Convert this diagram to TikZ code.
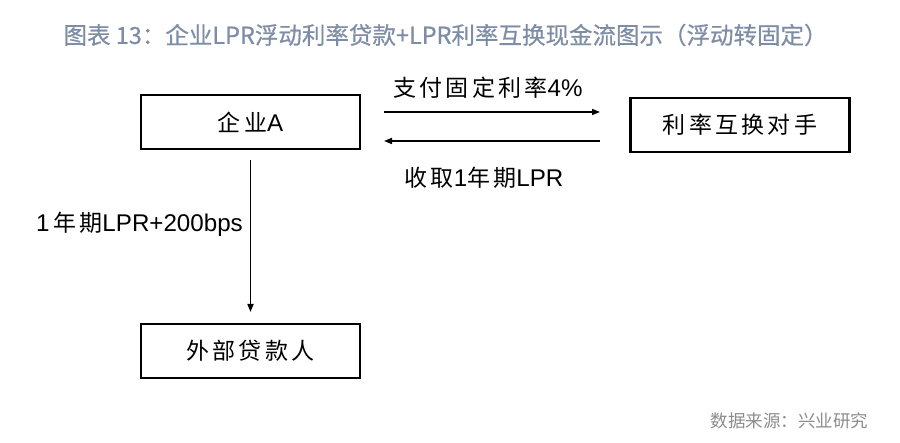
\documentclass[tikz,border=0pt]{standalone}
\usepackage{fontspec}
\setmainfont{Noto Sans CJK SC}
\newfontfamily\boxfont[LetterSpace=14]{Noto Sans CJK SC}
\newfontfamily\latinfont[Scale=1.05]{Liberation Sans}
\newfontfamily\titlefont[FakeBold=0.6]{Noto Sans CJK SC}
\newcommand{\lat}[1]{{\latinfont #1}}
\usetikzlibrary{arrows.meta,positioning}
\definecolor{titleblue}{RGB}{126,141,166}
\definecolor{srcgray}{RGB}{140,140,140}

\begin{document}
\begin{tikzpicture}[x=1pt,y=-1pt,
    party/.style={draw,line width=2.8pt,minimum width=219pt,minimum height=54pt,inner sep=0pt,outer sep=0pt,font=\fontsize{23}{27}\selectfont\boxfont},
    flow/.style={-{Triangle[length=8pt,width=6pt]},line width=1.6pt},
    flowtext/.style={font=\fontsize{23}{27}\selectfont\boxfont,inner sep=0pt}]
    \useasboundingbox (0,0) rectangle (900,443);

    % Title
    \node[anchor=west,text=titleblue,font=\fontsize{23.5}{28}\selectfont\titlefont] (title) at (60,35)
        {图表 13：企业LPR浮动利率贷款+LPR利率互换现金流图示（浮动转固定）};

    % Parties
    \node[party] (firm) at (250.5,122) {企业\lat{A}};
    \node[party] (swapcp) at (740,125) {利率互换对手};
    \node[party] (lender) at (250.5,351) {外部贷款人};

    % Swap legs
    \coordinate (payS) at (384,112);
    \coordinate (payE) at (600,112);
    \coordinate (recS) at (600,141);
    \coordinate (recE) at (384,141);
    \draw[flow] (payS) -- (payE);
    \draw[flow] (recS) -- (recE);
    \node[flowtext] (paylbl) at (488,88) {支付固定利率\lat{4\%}};
    \node[flowtext] (reclbl) at (484,178) {收取\lat{1}年期\lat{LPR}};

    % Loan interest
    \draw[flow] ([yshift=-11pt]firm.south) -- ([yshift=12pt]lender.north);
    \node[flowtext,anchor=east] (loanlbl) at (243,224) {\lat{1}\,年期\lat{LPR+200bps}};

    % Source
    \node[anchor=east,text=srcgray,font=\fontsize{17.5}{21}\selectfont] (source) at (872,421)
        {数据来源：兴业研究};
\end{tikzpicture}
\end{document}
